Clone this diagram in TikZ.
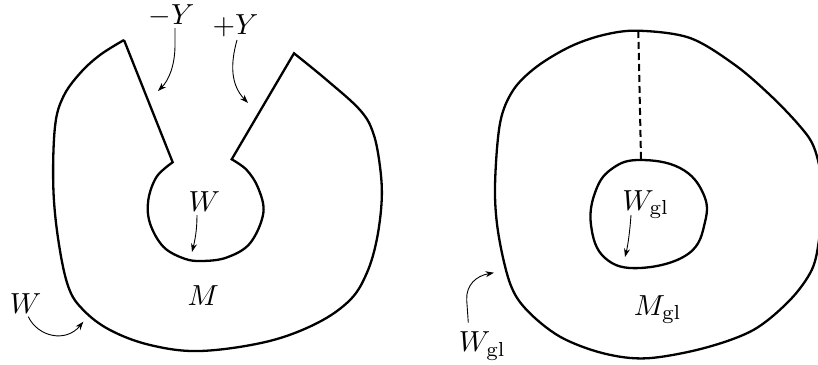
\documentclass[tikz,border=0pt]{standalone}
\usetikzlibrary{arrows.meta}
\begin{document}
\begin{tikzpicture}[x=1pt,y=-1pt,
  bound/.style={line width=2.3pt},
  arr/.style={line width=0.9pt,-{Stealth[length=8.5pt,width=6pt]}},
  lab/.style={anchor=base west,inner sep=0pt,scale=2.9}]
\useasboundingbox (0,0) rectangle (818,364);
\clip (0,0) rectangle (818,364);
% left region
\draw[bound] (124,40) -- (172.7,162.3)
  -- plot[smooth,tension=0.6] coordinates {(172.7,162.3) (156.7,176.7) (148.3,200) (150,223.3) (163.3,246.7) (184,258.5) (202,261) (226.7,257.5) (250,243.3) (263.3,213.3) (258.3,188.3) (246.7,170) (231.7,159.3)}
  -- (294,53.3)
  -- plot[smooth,tension=0.6] coordinates {(294,53.3) (326.7,80) (360,110) (373.3,133.3) (380,166.7) (381.7,200) (376.7,240) (366.7,273.3) (350,300) (316.7,323.3) (266.7,341.7) (200,351) (150,345) (110,330) (83.3,310) (68.3,286.7) (58.3,240) (53.3,186.7) (55,126.7) (63.3,96.7) (80,73.3) (100,55) (124,40)};
\node[lab] (mY) at (148,24) {$-Y$};
\node[lab] (pY) at (212,34) {$+Y$};
\node[lab] (Win) at (188,211.7) {$W$};
\node[lab] (M) at (187,305) {$M$};
\node[lab] (Wout) at (9.3,313.3) {$W$};
\coordinate (a1) at (175,28);
\coordinate (a2) at (158,91);
\coordinate (b1) at (237,40);
\coordinate (b2) at (248,103);
\coordinate (c1) at (197,215);
\coordinate (c2) at (192,252);
\coordinate (d1) at (28.3,316.7);
\coordinate (d2) at (83.3,321.7);
\draw[arr] (a1) -- (175,45) .. controls (175,65) and (169,80) .. (a2);
\draw[arr] (b1) .. controls (230,65) and (231,85) .. (b2);
\draw[arr] (c1) .. controls (197,230) and (195,240) .. (c2);
\draw[arr] (d1) .. controls (38,337) and (66,343) .. (d2);
% right region
\draw[bound] plot[smooth cycle,tension=0.55] coordinates {(638.3,30.7) (690,38) (735,65) (770,95) (798,124) (813,145) (821,175) (822,205) (819,240) (811.7,270) (790,300) (753.3,330) (703.3,348.3) (646.7,358.3) (603.3,353.3) (560,336.7) (526.7,310) (510,283.3) (498.3,233.3) (495,186.7) (500,123.3) (513.3,90) (536.7,66.7) (570,46.7) (603.3,35)};
\draw[bound] plot[smooth cycle,tension=0.7] coordinates {(640,160) (680,168) (703,193) (705,222) (688,254) (640,268) (605,258) (591,225) (596,190) (613,168)};
\coordinate (top) at (638.3,31);
\coordinate (ctop) at (641,159);
\draw[line width=2pt,dash pattern=on 7pt off 4pt] (top) -- (ctop);
\node[lab] (Wgin) at (621.7,210) {$W_{\mathrm{gl}}$};
\node[lab] (Mg) at (633.3,315) {$M_{\mathrm{gl}}$};
\node[lab] (Wgout) at (458.3,351.7) {$W_{\mathrm{gl}}$};
\coordinate (e1) at (631,215);
\coordinate (e2) at (625,257);
\coordinate (f1) at (468.3,322.7);
\coordinate (f2) at (494,272.7);
\draw[arr] (e1) .. controls (630,230) and (628,245) .. (e2);
\draw[arr] (f1) -- (466.7,300) .. controls (466,285) and (476,276) .. (f2);
\end{tikzpicture}
\end{document}
